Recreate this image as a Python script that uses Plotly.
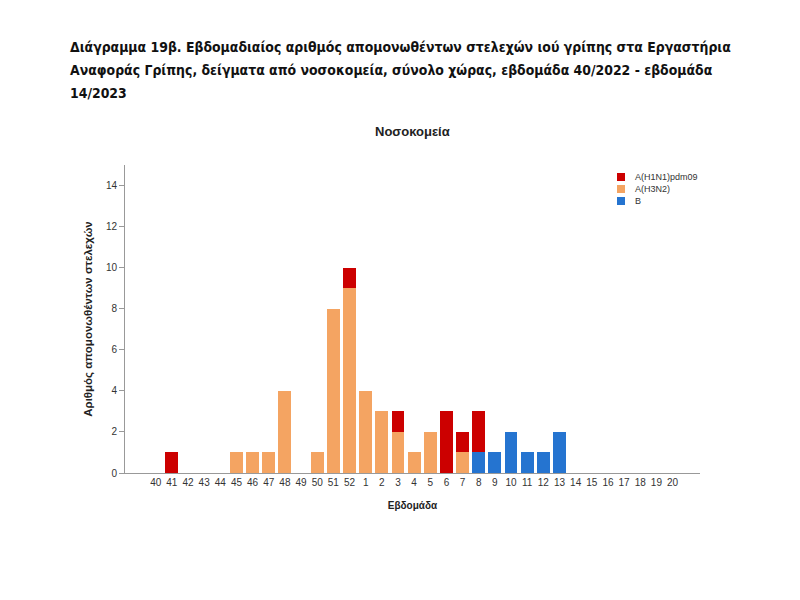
import plotly.graph_objects as go

weeks = [str(w) for w in list(range(40, 53)) + list(range(1, 21))]
h1n1 = [0,1,0,0,0,0,0,0,0,0,0,0,1, 0,0,1,0,0,3,1,2,0,0,0,0,0, 0,0,0,0,0,0,0]
h3n2 = [0,0,0,0,0,1,1,1,4,0,1,8,9, 4,3,2,1,2,0,1,0,0,0,0,0,0, 0,0,0,0,0,0,0]
b    = [0,0,0,0,0,0,0,0,0,0,0,0,0, 0,0,0,0,0,0,0,1,1,2,1,1,2, 0,0,0,0,0,0,0]

series = [("A(H1N1)pdm09", h1n1, "#CC0000"), ("A(H3N2)", h3n2, "#F4A462"), ("B", b, "#2574D0")]

title_lines = [
    "Διάγραμμα 19β. Εβδομαδιαίος αριθμός απομονωθέντων στελεχών ιού γρίπης στα Εργαστήρια",
    "Αναφοράς Γρίπης, δείγματα από νοσοκομεία, σύνολο χώρας, εβδομάδα 40/2022 - εβδομάδα",
    "14/2023",
]

fig = go.Figure()
for name, vals, col in reversed(series):
    fig.add_bar(x=weeks, y=vals, name=name, showlegend=False,
                marker=dict(color=col, line=dict(width=0)))

PW, PH = 575, 308
ann = []
shapes = []
for i, (name, vals, col) in enumerate(series):
    yc = 12 + 12 * i
    shapes.append(dict(type="rect", xref="paper", yref="paper",
                       x0=(492) / PW, x1=(500) / PW, y0=1 - (yc + 4) / PH, y1=1 - (yc - 4) / PH,
                       fillcolor=col, line=dict(width=0)))
    ann.append(dict(text=name, xref="paper", yref="paper", x=(508) / PW, y=1 - yc / PH, xanchor="left",
                    yanchor="middle", showarrow=False, font=dict(size=9, color="#333333")))

for i, line in enumerate(title_lines):
    ann.append(dict(text="<b>" + line + "</b>", xref="paper", yref="paper", x=-57 / PW,
                    y=1 + (118 - 23 * i) / PH, xanchor="left", yanchor="middle",
                    align="left", showarrow=False,
                    font=dict(family="DejaVu Sans Condensed, Liberation Sans", size=13.9, color="#111111")))

ann.append(dict(text="<b>Νοσοκομεία</b>", xref="paper", yref="paper", x=0.5, y=1 + 33 / PH, xanchor="center",
                yanchor="middle", showarrow=False, font=dict(size=13, color="#222222")))

fig.update_layout(
    width=800, height=600,
    barmode="stack", bargap=0.2,
    plot_bgcolor="white", paper_bgcolor="white",
    margin=dict(l=117, r=108, t=157, b=135),
    font=dict(family="Liberation Sans, Arial", size=10, color="#333333"),
    showlegend=False,
    xaxis=dict(type="category", range=[-1.9, 33.7], showline=True, linecolor="#999999",
               linewidth=1, ticks="", showgrid=False, tickfont=dict(size=10, color="#333333"),
               title=dict(text="<b>Εβδομάδα</b>", font=dict(size=10, color="#222222"), standoff=14)),
    yaxis=dict(range=[0, 15], tickvals=[0, 2, 4, 6, 8, 10, 12, 14], showline=True, linecolor="#999999",
               linewidth=1, ticks="outside", ticklen=5, tickcolor="#999999", showgrid=False,
               zeroline=False, tickfont=dict(size=10, color="#333333"),
               title=dict(text="<b>Αριθμός απομονωθέντων στελεχών</b>", font=dict(size=11.5, color="#222222"), standoff=10)),
    annotations=ann,
    shapes=shapes,
)

fig.write_html("out.html")
